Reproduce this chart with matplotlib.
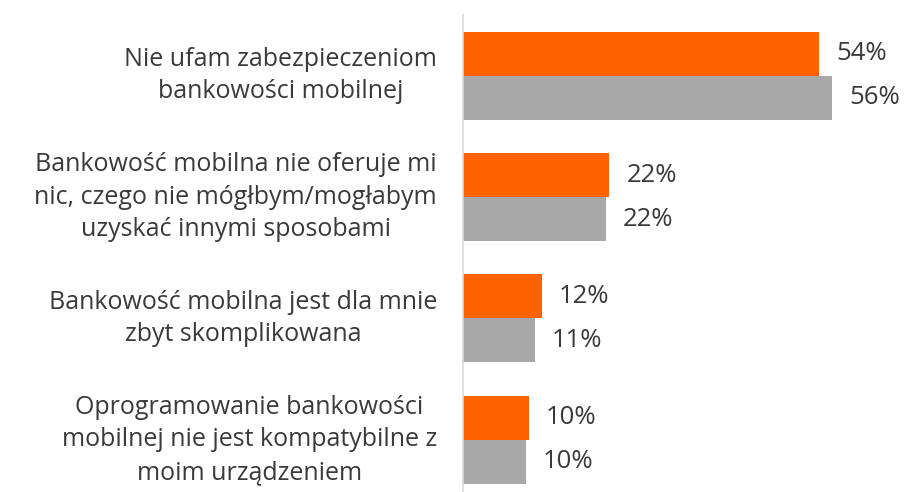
import numpy as np
import matplotlib
matplotlib.use("Agg")
from matplotlib import pyplot as plt

categories = [
    "Nie ufam zabezpieczeniom\nbankowości mobilnej",
    "Bankowość mobilna nie oferuje mi\nnic, czego nie mógłbym/mogłabym\nuzyskać innymi sposobami",
    "Bankowość mobilna jest dla mnie\nzbyt skomplikowana",
    "Oprogramowanie bankowości\nmobilnej nie jest kompatybilne z\nmoim urządzeniem",
]
orange_vals = [54.0, 22.2, 12.0, 10.0]
gray_vals = [56.0, 21.7, 10.9, 9.5]

ORANGE = "#FF6200"
GRAY = "#A8A8A8"
TEXT = "#3a3a3a"

plt.rcParams['font.family'] = ['Open Sans', 'DejaVu Sans']


def main():
    fig = plt.figure(figsize=(9.05, 4.92), dpi=100)
    # axes from x=463px to right edge, y from 15px to bottom
    ax = fig.add_axes([463 / 905, 0, 1 - 463 / 905, (492 - 15) / 492])

    y = np.arange(len(categories))
    h = 0.363
    ax.barh(y - h / 2, orange_vals, height=h, color=ORANGE)
    ax.barh(y + h / 2, gray_vals, height=h, color=GRAY)

    for yi, v in zip(y, orange_vals):
        ax.annotate(f"{round(v)}%", (v, yi - h / 2), xytext=(17, 0),
                    textcoords="offset pixels", va="center", ha="left",
                    fontsize=18.5, color=TEXT)
    for yi, v in zip(y, gray_vals):
        ax.annotate(f"{round(v)}%", (v, yi + h / 2), xytext=(17, 0),
                    textcoords="offset pixels", va="center", ha="left",
                    fontsize=18.5, color=TEXT)

    for yi, lab in zip(y, categories):
        ax.annotate(lab, (0, yi), xytext=(-26, 0), textcoords="offset pixels",
                    va="center", ha="right", multialignment="center",
                    fontsize=18, color=TEXT, linespacing=1.4,
                    annotation_clip=False)

    ax.set_xlim(0, 67)
    ax.set_ylim(3.43, -0.5)
    ax.set_xticks([])
    ax.set_yticks([])
    for s in ["top", "right", "bottom"]:
        ax.spines[s].set_visible(False)
    ax.spines["left"].set_color("#D9D9D9")
    ax.spines["left"].set_linewidth(1.2)

    fig.savefig("out.png", dpi=100)


if __name__ == '__main__':
    main()
